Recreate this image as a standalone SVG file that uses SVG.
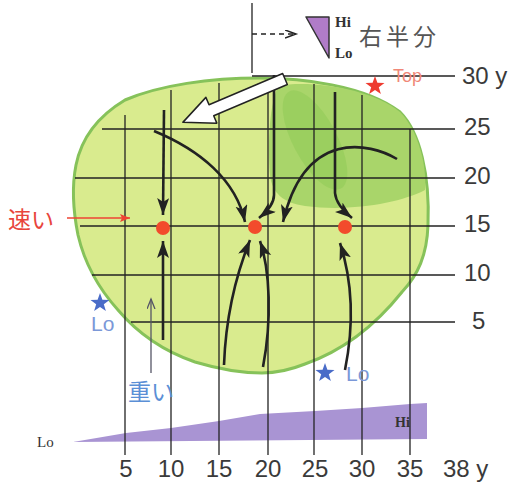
<svg xmlns="http://www.w3.org/2000/svg" width="510" height="482" viewBox="0 0 510 482">
<style>
.grid{stroke:#222;stroke-width:1.3;fill:none}
.arr{stroke:#222;stroke-width:2.6;fill:none;marker-end:url(#ah)}
.num{font-family:"Liberation Sans",Arial,sans-serif;font-size:24px;fill:#3a3a3a}
.serif{font-family:"Liberation Serif","Times New Roman",serif;fill:#333}
.b{font-weight:bold}
.jp{font-family:"Noto Sans CJK JP","Noto Sans CJK SC",sans-serif;font-size:23px}
.lo{font-family:"Liberation Sans",Arial,sans-serif;font-size:21px;fill:#7b98d8}
</style>
<defs>
<marker id="ah" markerUnits="userSpaceOnUse" markerWidth="20" markerHeight="14" refX="17" refY="6" orient="auto">
<path d="M0,0 L17,6 L0,12 L4,6 Z" fill="#222"/>
</marker>
<marker id="ahr" markerUnits="userSpaceOnUse" markerWidth="12" markerHeight="10" refX="10" refY="4" orient="auto">
<path d="M0,0 L10,4 L0,8 L2,4 Z" fill="#ee4433"/>
</marker>
<marker id="ahg" markerUnits="userSpaceOnUse" markerWidth="12" markerHeight="10" refX="10" refY="4" orient="auto">
<path d="M0,0 L10,4 L0,8" fill="none" stroke="#556" stroke-width="1.3"/>
</marker>
<marker id="ahd" markerUnits="userSpaceOnUse" markerWidth="14" markerHeight="10" refX="11" refY="4" orient="auto">
<path d="M0,0 L11,4 L0,8" fill="none" stroke="#222" stroke-width="1.5"/>
</marker>
<polygon id="star" points="0,-10 2.4,-3.2 9.5,-3.1 3.8,1.2 5.9,8.1 0,4 -5.9,8.1 -3.8,1.2 -9.5,-3.1 -2.4,-3.2"/>
</defs>

<g id="blob">
<path d="M260,78 C300,78 365,85 400,112 C420,132 430,175 428,225 C427,255 418,275 402,292 C378,322 345,350 305,364 C290,370 275,373 262,373 C240,373 215,368 195,362 C160,350 135,330 118,310 C100,290 85,265 78,235 C73,210 72,185 76,165 C82,135 100,115 125,100 C160,85 210,78 260,78 Z" fill="#d9eb8e" stroke="#86c25a" stroke-width="3"/>
<path d="M278,86 C310,80 370,88 400,112 C418,130 427,165 425,190 C400,203 350,212 305,206 C283,203 272,193 270,175 C268,150 268,110 278,86 Z" fill="#a9d56a"/>
<ellipse cx="315" cy="140" rx="22" ry="55" transform="rotate(-28 315 140)" fill="#93cc58" opacity="0.6"/>
</g>

<g id="wedge">
<polygon points="73,442 126,433 171,428 219,421 260,414 315,411 362,408 410,404 427,403 427,439" fill="#a994d3"/>
<text x="395" y="427" class="serif b" font-size="14">Hi</text>
<text x="37" y="447" class="serif" font-size="15">Lo</text>
</g>

<g id="grid">
<line class="grid" x1="252" y1="76" x2="455" y2="76"/>
<line class="grid" x1="102" y1="129" x2="455" y2="129"/>
<line class="grid" x1="75" y1="178" x2="455" y2="178"/>
<line class="grid" x1="80" y1="226" x2="455" y2="226"/>
<line class="grid" x1="92" y1="275" x2="455" y2="275"/>
<line class="grid" x1="131" y1="322" x2="455" y2="322"/>
<line class="grid" x1="125" y1="115" x2="125" y2="455"/>
<line class="grid" x1="171" y1="90" x2="171" y2="455"/>
<line class="grid" x1="219" y1="83" x2="219" y2="455"/>
<line class="grid" x1="268" y1="79" x2="268" y2="455"/>
<line class="grid" x1="314" y1="84" x2="314" y2="455"/>
<line class="grid" x1="362" y1="95" x2="362" y2="455"/>
<line class="grid" x1="410" y1="129" x2="410" y2="455"/>
<line class="grid" x1="252" y1="3" x2="252" y2="73" stroke-width="1.8"/>
</g>

<g id="axis-labels">
<text class="num" x="462" y="84">30 y</text>
<text class="num" x="464" y="135">25</text>
<text class="num" x="464" y="184">20</text>
<text class="num" x="464" y="232">15</text>
<text class="num" x="464" y="281">10</text>
<text class="num" x="472" y="329">5</text>
<g text-anchor="middle">
<text class="num" x="126" y="477">5</text>
<text class="num" x="171" y="477">10</text>
<text class="num" x="219" y="477">15</text>
<text class="num" x="268" y="477">20</text>
<text class="num" x="315" y="477">25</text>
<text class="num" x="362" y="477">30</text>
<text class="num" x="410" y="477">35</text>
</g>
<text class="num" x="443" y="477">38 y</text>
</g>

<g id="legend-top">
<line x1="252" y1="34" x2="296" y2="34" stroke="#222" stroke-width="1.4" stroke-dasharray="5,4" marker-end="url(#ahd)"/>
<polygon points="306,17 329,17 329,58" fill="#b07cc8" stroke="#333" stroke-width="1.5" stroke-linejoin="round"/>
<text x="335" y="27" class="serif b" font-size="15">Hi</text>
<text x="335" y="58" class="serif b" font-size="15">Lo</text>
<text x="359" y="45" class="jp" fill="#555" font-size="22" letter-spacing="4">右半分</text>
</g>

<g id="connectors">
<path class="arr" d="M164,110 L163,215"/>
<path class="arr" d="M163,340 L163,241"/>
<path class="arr" d="M154,131 C200,150 236,180 245,222"/>
<path class="arr" d="M274,75 L274,195 Q274,206 259,218"/>
<path class="arr" d="M397,159 C370,143 305,128 283,222"/>
<path class="arr" d="M335,92 L335,193 Q336,205 352,218"/>
<path class="arr" d="M224,365 C226,310 238,270 250,240"/>
<path class="arr" d="M263,367 C272,320 270,270 260,241"/>
<path class="arr" d="M345,370 C355,320 352,280 340,243"/>
<line x1="67" y1="218" x2="130" y2="218" stroke="#ee4433" stroke-width="1.5" marker-end="url(#ahr)"/>
<line x1="151" y1="373" x2="151" y2="299" stroke="#556" stroke-width="1.3" marker-end="url(#ahg)"/>
</g>

<g id="dots" fill="#f24b2c">
<circle cx="163" cy="228" r="7"/>
<circle cx="255" cy="227" r="7"/>
<circle cx="345" cy="227" r="7"/>
</g>

<g id="white-arrow">
<path d="M0,-6 L80,-6 L80,-14 L111,0 L80,14 L80,6 L0,6 Z" transform="translate(285,79) rotate(157)" fill="#fff" stroke="#222" stroke-width="1.5" stroke-linejoin="round"/>
</g>

<g id="markers-stars">
<use href="#star" x="375" y="86" fill="#ee3b30"/>
<text x="393" y="82" font-family="'Liberation Sans',Arial,sans-serif" font-size="18" fill="#f08878">Top</text>
<use href="#star" x="100" y="303" fill="#4a6cc8"/>
<text x="91" y="331" class="lo">Lo</text>
<use href="#star" x="325" y="373" fill="#4a6cc8"/>
<text x="346" y="381" class="lo">Lo</text>
</g>

<g id="text-labels">
<text x="8" y="228" class="jp" fill="#e8453c">速い</text>
<text x="128" y="400" class="jp" fill="#5b8fd6">重い</text>
</g>
</svg>
